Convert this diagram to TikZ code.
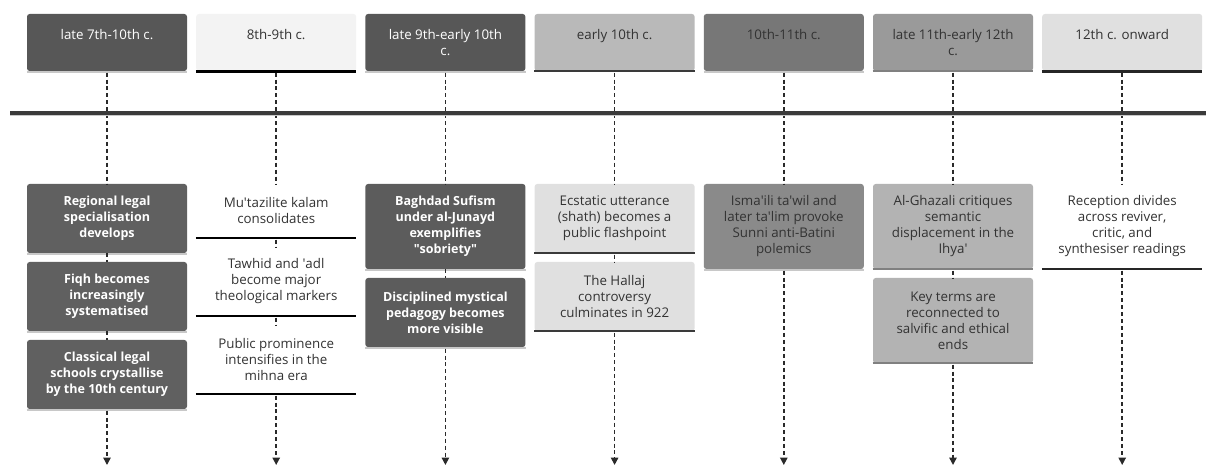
\documentclass[tikz,border=0pt]{standalone}
\usepackage{fontspec}
\setmainfont{Open Sans}
\usetikzlibrary{arrows.meta}
\definecolor{hA}{HTML}{575757}
\definecolor{eA}{HTML}{606060}
\definecolor{hB}{HTML}{F3F3F3}
\definecolor{hC}{HTML}{575757}
\definecolor{eC}{HTML}{5C5C5C}
\definecolor{hD}{HTML}{B9B9B9}
\definecolor{eD}{HTML}{E0E0E0}
\definecolor{hE}{HTML}{777777}
\definecolor{eE}{HTML}{8A8A8A}
\definecolor{hF}{HTML}{9A9A9A}
\definecolor{eF}{HTML}{B3B3B3}
\definecolor{hG}{HTML}{E0E0E0}
\definecolor{txt}{HTML}{333333}
\definecolor{shd}{HTML}{C8C8C8}
\definecolor{axis}{HTML}{3A3A3A}
\definecolor{dash}{HTML}{2A2A2A}
\newcommand\ap{\textquotesingle}
\begin{document}
\begin{tikzpicture}[x=0.75pt,y=-0.75pt,
  box/.style={rectangle, rounded corners=2pt, minimum width=120pt, inner sep=0pt,
    align=center, font=\fontsize{10}{12}\selectfont, text=txt},
  hd/.style={box, minimum height=42.75pt},
  htext/.style={inner sep=0pt, align=center, anchor=north, font=\fontsize{10}{12}\selectfont, text=txt},
  two/.style={box, minimum height=40.5pt},
  three/.style={box, minimum height=51.75pt},
  four/.style={box, minimum height=63.75pt},
  dk/.style={text=white, font=\fontsize{9.4}{12}\selectfont\bfseries},
  shadowline/.style={draw=shd, line width=1.2pt},
  dline/.style={draw=dash, line width=1.1pt, dash pattern=on 3pt off 2.2pt},
  dlinearrow/.style={dline, -{Triangle[width=5.5pt,length=5.5pt]}}
]
\useasboundingbox (0,0) rectangle (1206,466);

% axis
\coordinate (axL) at (10,113);
\coordinate (axR) at (1206,113);

% headers
\node[hd, fill=hA] (h1) at (107,42.5) {};
\node[htext, text=white] (h1t) at (107,29.5) {late 7th-10th c.};
\node[hd, fill=hB] (h2) at (276.2,42.5) {};
\node[htext] (h2t) at (276.2,29.5) {8th-9th c.};
\node[hd, fill=hC] (h3) at (445.4,42.5) {};
\node[htext, text=white] (h3t) at (445.4,29.5) {late 9th-early 10th\\c.};
\node[hd, fill=hD] (h4) at (614.6,42.5) {};
\node[htext] (h4t) at (614.6,29.5) {early 10th c.};
\node[hd, fill=hE] (h5) at (783.8,42.5) {};
\node[htext] (h5t) at (783.8,29.5) {10th-11th c.};
\node[hd, fill=hF] (h6) at (953,42.5) {};
\node[htext] (h6t) at (953,29.5) {late 11th-early 12th\\c.};
\node[hd, fill=hG] (h7) at (1122.2,42.5) {};
\node[htext] (h7t) at (1122.2,29.5) {12th c. onward};

% events column 1
\node[three, dk, fill=eA] (e11) at (107,218.5) {Regional legal\\specialisation\\develops};
\node[three, dk, fill=eA] (e12) at (107,296.5) {Fiqh becomes\\increasingly\\systematised};
\node[three, dk, fill=eA] (e13) at (107,374.5) {Classical legal\\schools crystallise\\by the 10th century};
% column 2
\node[two, fill=white] (e21) at (276.2,211) {Mu\ap tazilite kalam\\consolidates};
\node[three, fill=white] (e22) at (276.2,281.5) {Tawhid and \ap adl\\become major\\theological markers};
\node[three, fill=white] (e23) at (276.2,359.5) {Public prominence\\intensifies in the\\mihna era};
% column 3
\node[four, dk, fill=eC] (e31) at (445.4,226.5) {Baghdad Sufism\\under al-Junayd\\exemplifies\\\textquotedbl sobriety\textquotedbl};
\node[three, dk, fill=eC] (e32) at (445.4,312.5) {Disciplined mystical\\pedagogy becomes\\more visible};
% column 4
\node[three, fill=eD] (e41) at (614.6,218.5) {Ecstatic utterance\\(shath) becomes a\\public flashpoint};
\node[three, fill=eD] (e42) at (614.6,296.5) {The Hallaj\\controversy\\culminates in 922};
% column 5
\node[four, fill=eE] (e51) at (783.8,226.5) {Isma\ap ili ta\ap wil and\\later ta\ap lim provoke\\Sunni anti-Batini\\polemics};
% column 6
\node[four, fill=eF] (e61) at (953,226.5) {Al-Ghazali critiques\\semantic\\displacement in the\\Ihya\ap};
\node[four, fill=eF] (e62) at (953,320.5) {Key terms are\\reconnected to\\salvific and ethical\\ends};
% column 7
\node[four, fill=white] (e71) at (1122.2,226.5) {Reception divides\\across reviver,\\critic, and\\synthesiser readings};

% bottom borders
\foreach \n in {h1,h3,h5,e11,e12,e13,e31,e32,e51}{
  \draw[shadowline] ([yshift=-0.5pt]\n.south west) -- ([yshift=-0.5pt]\n.south east);
}
\foreach \n/\c/\w in {h2/black/2pt,e21/black/1.8pt,e22/black/1.8pt,e23/black/1.8pt,
  h4/axis/1.6pt,e41/axis/1.6pt,e42/axis/1.6pt,
  h6/gray/1.6pt,e61/gray/1.6pt,e62/gray/1.6pt,
  h7/black!85/2pt,e71/black!85/1.8pt}{
  \draw[draw=\c, line width=\w] (\n.south west) -- (\n.south east);
}

% end points
\coordinate (z1) at (107,465);
\coordinate (z2) at (276.2,465);
\coordinate (z3) at (445.4,465);
\coordinate (z4) at (614.6,465);
\coordinate (z5) at (783.8,465);
\coordinate (z6) at (953,465);
\coordinate (z7) at (1122.2,465);

% dashed connectors
\draw[dline] ([yshift=-1pt]h1.south) -- (e11.north);
\draw[dline] (e11.south) -- (e12.north);
\draw[dline] (e12.south) -- (e13.north);
\draw[dlinearrow] ([yshift=-1pt]e13.south) -- (z1);

\draw[dline] ([yshift=-1pt]h2.south) -- (e21.north);
\draw[dline] ([yshift=-1pt]e21.south) -- (e22.north);
\draw[dline] ([yshift=-1pt]e22.south) -- (e23.north);
\draw[dlinearrow] ([yshift=-1pt]e23.south) -- (z2);

\draw[dline] ([yshift=-1pt]h3.south) -- (e31.north);
\draw[dline] (e31.south) -- (e32.north);
\draw[dlinearrow] ([yshift=-1pt]e32.south) -- (z3);

\draw[dline] ([yshift=-1pt]h4.south) -- (e41.north);
\draw[dline] ([yshift=-1pt]e41.south) -- (e42.north);
\draw[dlinearrow] ([yshift=-1pt]e42.south) -- (z4);

\draw[dline] ([yshift=-1pt]h5.south) -- (e51.north);
\draw[dlinearrow] ([yshift=-1pt]e51.south) -- (z5);

\draw[dline] ([yshift=-1pt]h6.south) -- (e61.north);
\draw[dline] ([yshift=-1pt]e61.south) -- (e62.north);
\draw[dlinearrow] ([yshift=-1pt]e62.south) -- (z6);

\draw[dline] ([yshift=-1pt]h7.south) -- (e71.north);
\draw[dlinearrow] ([yshift=-1pt]e71.south) -- (z7);

% main axis
\draw[draw=shd, line width=1pt] ([yshift=-1.6pt]axL) -- ([yshift=-1.6pt]axR);
\draw[draw=axis, line width=2.3pt] (axL) -- (axR);
\end{tikzpicture}
\end{document}
